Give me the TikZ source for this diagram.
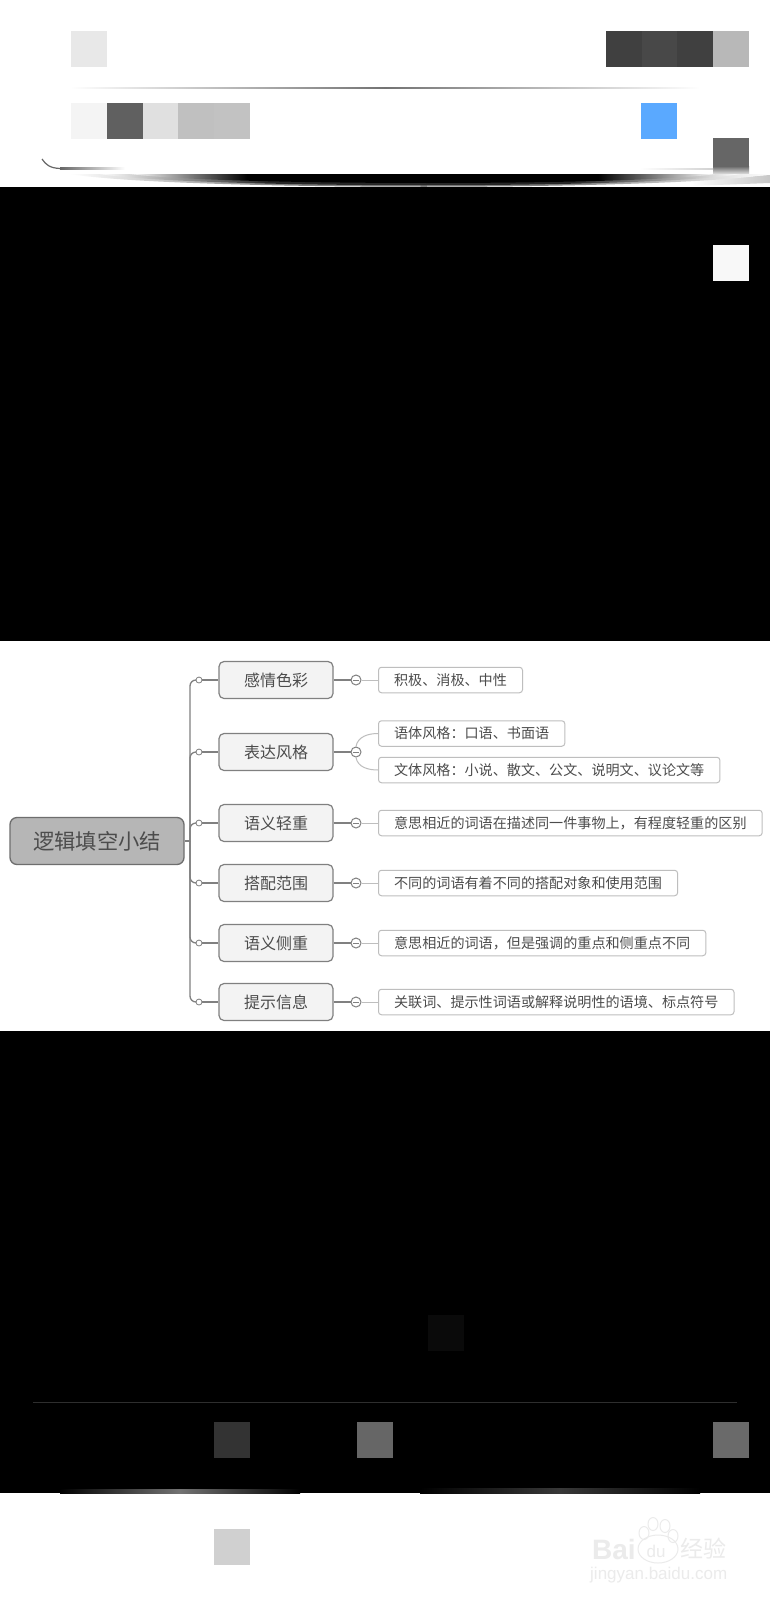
\documentclass[tikz,border=0pt]{standalone}
\usepackage{fontspec}
\setmainfont{Noto Sans CJK SC}
\newfontfamily\latinwm{Liberation Sans}
\definecolor{txt}{HTML}{4C4C4C}
\definecolor{rootfill}{HTML}{B6B6B6}
\definecolor{rootedge}{HTML}{6E6E6E}
\definecolor{secfill}{HTML}{F3F3F3}
\definecolor{secedge}{HTML}{808080}
\definecolor{leafedge}{HTML}{BEBEBE}
\definecolor{wm}{HTML}{EBEBEB}
\pgfdeclarehorizontalshading{lensa}{100bp}{color(0bp)=(white); color(25bp)=(white); color(40bp)=(black!50); color(60bp)=(black!50); color(75bp)=(white); color(100bp)=(white)}
\pgfdeclarehorizontalshading{lensb}{100bp}{color(0bp)=(white); color(25bp)=(white); color(38bp)=(black!85); color(62bp)=(black!85); color(75bp)=(white); color(100bp)=(white)}
\pgfdeclarehorizontalshading{lensc}{100bp}{color(0bp)=(white); color(25bp)=(white); color(35bp)=(black); color(65bp)=(black); color(75bp)=(white); color(100bp)=(white)}
\tikzset{
  x=1pt,y=-1pt,
  rootbox/.style={draw=rootedge,fill=rootfill,line width=1.3pt,rounded corners=7pt,minimum width=174pt,minimum height=47pt,inner sep=0pt,text=txt,font=\fontsize{21.3pt}{24pt}\selectfont},
  secbox/.style={draw=secedge,fill=secfill,line width=1.2pt,rounded corners=5pt,minimum width=114pt,minimum height=37pt,inner sep=0pt,text=txt,font=\fontsize{16pt}{19pt}\selectfont},
  leafbox/.style={draw=leafedge,fill=white,line width=1pt,rounded corners=3pt,anchor=west,minimum height=25.5pt,inner ysep=0pt,inner xsep=15.6pt,text=txt,font=\fontsize{14.1pt}{17pt}\selectfont},
  joint/.style={circle,draw=secedge,fill=white,line width=.8pt,minimum size=6pt,inner sep=0pt},
  minusjoint/.style={circle,draw=secedge,fill=white,line width=1pt,minimum size=10pt,inner sep=0pt,path picture={\draw[secedge,line width=1pt] ([xshift=-3pt]path picture bounding box.center) -- ([xshift=3pt]path picture bounding box.center);}},
  spine/.style={draw=secedge,line width=1.3pt,rounded corners=6pt},
  tosec/.style={draw=secedge,line width=1.2pt},
  toleaf/.style={draw=leafedge,line width=1pt},
  blok/.style={inner sep=0pt,minimum width=36pt,minimum height=36pt,anchor=north west,draw=none},
}
\begin{document}
\begin{tikzpicture}
\useasboundingbox (0,0) rectangle (770,1600);
% page bands
\fill[white] (0,0) rectangle (770,1600);
\fill[black] (0,187) rectangle (770,641);
\fill[black] (0,1031) rectangle (770,1493);
% top screen blocks
\node[blok,fill={rgb,255:red,232;green,232;blue,232}] (t1) at (71,31) {};
\node[blok,fill={rgb,255:red,64;green,64;blue,64}] (t2) at (606,31) {};
\node[blok,fill={rgb,255:red,72;green,72;blue,72}] (t3) at (642,31) {};
\node[blok,fill={rgb,255:red,64;green,64;blue,64}] (t4) at (677,31) {};
\node[blok,fill={rgb,255:red,184;green,184;blue,184}] (t5) at (713,31) {};
\shade[left color=white,right color=white,middle color=black!55] (70,87.3) rectangle (700,89);
\node[blok,fill={rgb,255:red,244;green,244;blue,244}] (u1) at (71,103) {};
\node[blok,fill={rgb,255:red,96;green,96;blue,96}] (u2) at (107,103) {};
\node[blok,fill={rgb,255:red,224;green,224;blue,224}] (u3) at (143,103) {};
\node[blok,fill={rgb,255:red,192;green,192;blue,192}] (u4) at (178,103) {};
\node[blok,fill={rgb,255:red,194;green,194;blue,194}] (u5) at (214,103) {};
\node[blok,fill={rgb,255:red,90;green,169;blue,255}] (u6) at (641,103) {};
\node[blok,fill={rgb,255:red,102;green,102;blue,102},minimum height=28pt] (u7) at (713,138) {};
\shade[top color=black!60,bottom color=white] (713,166) rectangle (749,176);
% card edge
\draw[black!60,line width=1.2pt] (42,159) .. controls (46,165) and (50,168) .. (60,168.5);
\shade[left color=black!60,right color=white] (60,167.9) rectangle (125,169.2);
\shade[left color=white,right color=black!18] (640,168) rectangle (713,169.5);
% card shadow
\shade[left color=white,right color=black!22] (690,181) -- (770,175) -- (770,183) -- (690,186) -- cycle;
\shade[shading=lensa] (70,174) -- (770,174) .. controls (680,191) and (170,191) .. (70,174) -- cycle;
\shade[shading=lensb] (100,174) -- (740,174) .. controls (660,189) and (190,189) .. (100,174) -- cycle;
\shade[shading=lensc] (130,174) -- (715,174) .. controls (640,186) and (220,186) .. (130,174) -- cycle;
% white block in black band
\node[blok,fill={rgb,255:red,248;green,248;blue,248}] (w1) at (713,245) {};
% mind map
\node[rootbox] (root) at (97,841) {逻辑填空小结};
\node[secbox] (s1) at (276,680) {感情色彩};
\node[secbox] (s2) at (276,752) {表达风格};
\node[secbox] (s3) at (276,823) {语义轻重};
\node[secbox] (s4) at (276,883) {搭配范围};
\node[secbox] (s5) at (276,943) {语义侧重};
\node[secbox] (s6) at (276,1002) {提示信息};
\node[leafbox] (l1) at (378,680) {积极、消极、中性};
\node[leafbox] (l2a) at (378,733.5) {语体风格：口语、书面语};
\node[leafbox] (l2b) at (378,770) {文体风格：小说、散文、公文、说明文、议论文等};
\node[leafbox] (l3) at (378,823) {意思相近的词语在描述同一件事物上，有程度轻重的区别};
\node[leafbox] (l4) at (378,883) {不同的词语有着不同的搭配对象和使用范围};
\node[leafbox] (l5) at (378,943) {意思相近的词语，但是强调的重点和侧重点不同};
\node[leafbox] (l6) at (378,1002) {关联词、提示性词语或解释说明性的语境、标点符号};
\coordinate (hub) at (190,841);
\draw[tosec] (root.east) -- (hub);
\foreach \i/\yy in {1/680,2/752,3/823,4/883,5/943,6/1002}{
  \draw[spine] (hub) |- (199,\yy);
  \node[minusjoint] (m\i) at (356,\yy) {};
  \draw[tosec] (s\i.east) -- (m\i.west);
}
\foreach \i/\yy in {1/680,2/752,3/823,4/883,5/943,6/1002}{
  \node[joint] (d\i) at (199,\yy) {};
  \draw[tosec] (d\i.east) -- (s\i.west);
}
\foreach \i in {1,3,4,5,6}{\draw[toleaf] (m\i.east) -- (l\i.west);}
\draw[toleaf] (m2.north) to[out=80,in=180] (l2a.west);
\draw[toleaf] (m2.south) to[out=-80,in=180] (l2b.west);
% bottom screen
\node[blok,fill={rgb,255:red,10;green,10;blue,10}] (b1) at (428,1315) {};
\draw[black!82!white,line width=1pt] (33,1402) -- (737,1402);
\node[blok,fill={rgb,255:red,51;green,51;blue,51}] (b2) at (214,1422) {};
\node[blok,fill={rgb,255:red,102;green,102;blue,102}] (b3) at (357,1422) {};
\node[blok,fill={rgb,255:red,106;green,106;blue,106}] (b4) at (713,1422) {};
\shade[left color=black,right color=black,middle color=black!55] (60,1489) rectangle (300,1493);
\shade[left color=black,right color=black,middle color=black!78] (420,1488) rectangle (700,1493);
\node[blok,fill={rgb,255:red,208;green,208;blue,208}] (b5) at (214,1529) {};
% watermark
\draw[wm,line width=1pt] (658,1549) ellipse (20pt and 14pt);
\draw[wm,line width=1pt] (644,1533) ellipse (5pt and 6.5pt);
\draw[wm,line width=1pt] (653,1524) ellipse (5pt and 6.5pt);
\draw[wm,line width=1pt] (665,1526) ellipse (5pt and 6.5pt);
\draw[wm,line width=1pt] (673,1536) ellipse (5pt and 6.5pt);
\node[inner sep=0pt,anchor=west,text=wm,font=\latinwm\bfseries\fontsize{28pt}{28pt}\selectfont] (wa) at (592,1549) {Bai};
\node[inner sep=0pt,text=wm,font=\latinwm\fontsize{17pt}{17pt}\selectfont] (wb) at (656,1551) {du};
\node[inner sep=0pt,anchor=west,text=wm,font=\fontsize{23pt}{23pt}\selectfont] (wc) at (680,1549) {经验};
\node[inner sep=0pt,anchor=west,text=wm,font=\latinwm\fontsize{17pt}{18pt}\selectfont] (wd) at (590,1575) {jingyan.baidu.com};
\end{tikzpicture}
\end{document}
